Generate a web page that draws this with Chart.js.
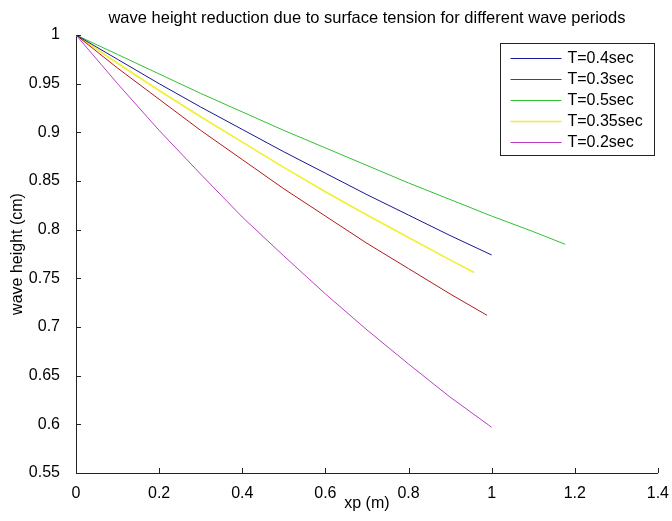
<!DOCTYPE html>
<html>
<head>
<meta charset="utf-8">
<script src="https://cdn.jsdelivr.net/npm/chart.js@4.4.0/dist/chart.umd.min.js"></script>
<style>
  body { margin: 0; background: #fff; }
  canvas { display: block; }
</style>
</head>
<body>
<canvas id="waveChart" width="672" height="521"></canvas>
<script>
// distance along the channel (m) and wave height (cm) for each period
const xBlue = [0, 0.1, 0.2, 0.3, 0.4, 0.5, 0.6, 0.7, 0.8, 0.9, 1.0];
const hBlue = [1, 0.975, 0.950, 0.926, 0.903, 0.880, 0.858, 0.836, 0.815, 0.794, 0.774];

const xRed = [0, 0.1, 0.2, 0.3, 0.4, 0.5, 0.6, 0.7, 0.8, 0.9, 0.989];
const hRed = [1, 0.966, 0.934, 0.902, 0.872, 0.842, 0.814, 0.786, 0.760, 0.734, 0.712];

const xGreen = [0, 0.1, 0.2, 0.3, 0.4, 0.5, 0.6, 0.7, 0.8, 0.9, 1.0, 1.1, 1.177];
const hGreen = [1, 0.980, 0.960, 0.940, 0.921, 0.902, 0.884, 0.866, 0.848, 0.831, 0.814, 0.798, 0.785];

const xYellow = [0, 0.1, 0.2, 0.3, 0.4, 0.5, 0.6, 0.7, 0.8, 0.9, 0.958];
const hYellow = [1, 0.971, 0.943, 0.916, 0.890, 0.864, 0.839, 0.815, 0.792, 0.769, 0.756];

const xMagenta = [0, 0.1, 0.2, 0.3, 0.4, 0.5, 0.6, 0.7, 0.8, 0.9, 1.0];
const hMagenta = [1, 0.950, 0.902, 0.857, 0.813, 0.773, 0.734, 0.697, 0.662, 0.628, 0.597];

const periodLabels = ["T=0.4sec", "T=0.3sec", "T=0.5sec", "T=0.35sec", "T=0.2sec"];
const lineColors = ["#181890", "#b01c1c", "#30c030", "#f0f030", "#b840c0"];
const lineWidths = [1, 1, 1, 1.6, 1];

const titleText = "wave height reduction due to surface tension for different wave periods";
const fontFamily = "'Liberation Sans', Arial, sans-serif";
const axisColor = "#222";

function toPoints(xs, ys) {
  return xs.map((x, i) => ({ x: x, y: ys[i] }));
}

const seriesX = [xBlue, xRed, xGreen, xYellow, xMagenta];
const seriesH = [hBlue, hRed, hGreen, hYellow, hMagenta];

const datasets = periodLabels.map((label, i) => ({
  label: label,
  data: toPoints(seriesX[i], seriesH[i]),
  borderColor: lineColors[i],
  backgroundColor: lineColors[i],
  borderWidth: lineWidths[i],
  pointRadius: 0,
  tension: 0,
  fill: false,
}));

// title centred over the axes rather than the whole canvas
const axesTitle = {
  id: "axesTitle",
  afterDraw(chart) {
    const { ctx, chartArea } = chart;
    ctx.save();
    ctx.font = "16.5px " + fontFamily;
    ctx.fillStyle = "#000";
    ctx.textAlign = "center";
    ctx.textBaseline = "middle";
    ctx.fillText(titleText, (chartArea.left + chartArea.right) / 2, 18);
    ctx.restore();
  },
};

// matlab style ticks pointing into the axes
const innerTicks = {
  id: "innerTicks",
  afterDraw(chart) {
    const { ctx, chartArea, scales } = chart;
    ctx.save();
    ctx.strokeStyle = axisColor;
    ctx.lineWidth = 1;
    ctx.beginPath();
    scales.x.ticks.forEach((t) => {
      const px = Math.round(scales.x.getPixelForValue(t.value)) + 0.5;
      ctx.moveTo(px, chartArea.bottom);
      ctx.lineTo(px, chartArea.bottom - 5);
    });
    scales.y.ticks.forEach((t) => {
      const py = Math.round(scales.y.getPixelForValue(t.value)) + 0.5;
      ctx.moveTo(chartArea.left, py);
      ctx.lineTo(chartArea.left + 5, py);
    });
    ctx.stroke();
    ctx.restore();
  },
};

// boxed legend in the upper right corner of the plot
const boxLegend = {
  id: "boxLegend",
  afterDraw(chart) {
    const { ctx, chartArea } = chart;
    const sets = chart.data.datasets;
    ctx.save();
    ctx.font = "16px " + fontFamily;
    const textW = Math.max(...sets.map((d) => ctx.measureText(d.label).width));
    const lineLen = 51, rowH = 21;
    const w = Math.round(10 + lineLen + 6 + textW + 12);
    const h = rowH * sets.length + 7;
    const right = chartArea.right - 4;
    const left = Math.round(right - w) + 0.5;
    const top = chartArea.top + 8.5;
    ctx.fillStyle = "#fff";
    ctx.fillRect(left, top, w, h);
    ctx.strokeStyle = axisColor;
    ctx.lineWidth = 1;
    ctx.strokeRect(left, top, w, h);
    ctx.textBaseline = "middle";
    sets.forEach((d, i) => {
      const cy = Math.round(top + 14 + i * rowH) + 0.5;
      ctx.strokeStyle = d.borderColor;
      ctx.lineWidth = d.borderWidth;
      ctx.beginPath();
      ctx.moveTo(left + 10, cy);
      ctx.lineTo(left + 10 + lineLen, cy);
      ctx.stroke();
      ctx.fillStyle = "#000";
      ctx.fillText(d.label, left + 10 + lineLen + 6, cy);
    });
    ctx.restore();
  },
};

const tickText = (v) => String(Number(Number(v).toFixed(2)));

const ctx = document.getElementById("waveChart").getContext("2d");

const waveChart = new Chart(ctx, {
  type: "line",
  data: { datasets: datasets },
  plugins: [axesTitle, innerTicks, boxLegend],
  options: {
    responsive: false,
    animation: false,
    layout: { padding: { left: 0, right: 12, top: 35, bottom: 0 } },
    plugins: {
      legend: { display: false },
      tooltip: { enabled: false },
      title: { display: false },
    },
    scales: {
      x: {
        type: "linear",
        min: 0,
        max: 1.4,
        grid: { display: false },
        border: { display: true, color: axisColor, width: 1 },
        ticks: {
          stepSize: 0.2,
          color: "#000",
          padding: 3,
          maxRotation: 0,
          font: { family: fontFamily, size: 16 },
          callback: tickText,
        },
        title: {
          display: true,
          text: "xp (m)",
          color: "#000",
          font: { family: fontFamily, size: 16 },
          padding: { top: 0, bottom: 8 },
        },
        afterFit(scale) {
          scale.height = 48;
        },
      },
      y: {
        min: 0.55,
        max: 1,
        grid: { display: false },
        border: { display: true, color: axisColor, width: 1 },
        ticks: {
          stepSize: 0.05,
          color: "#000",
          padding: 8,
          font: { family: fontFamily, size: 16 },
          callback: tickText,
        },
        title: {
          display: true,
          text: "wave height (cm)",
          color: "#000",
          font: { family: fontFamily, size: 16 },
          padding: { top: 8, bottom: 0 },
        },
        afterFit(scale) {
          scale.width = 76;
        },
      },
    },
  },
});
</script>
</body>
</html>
